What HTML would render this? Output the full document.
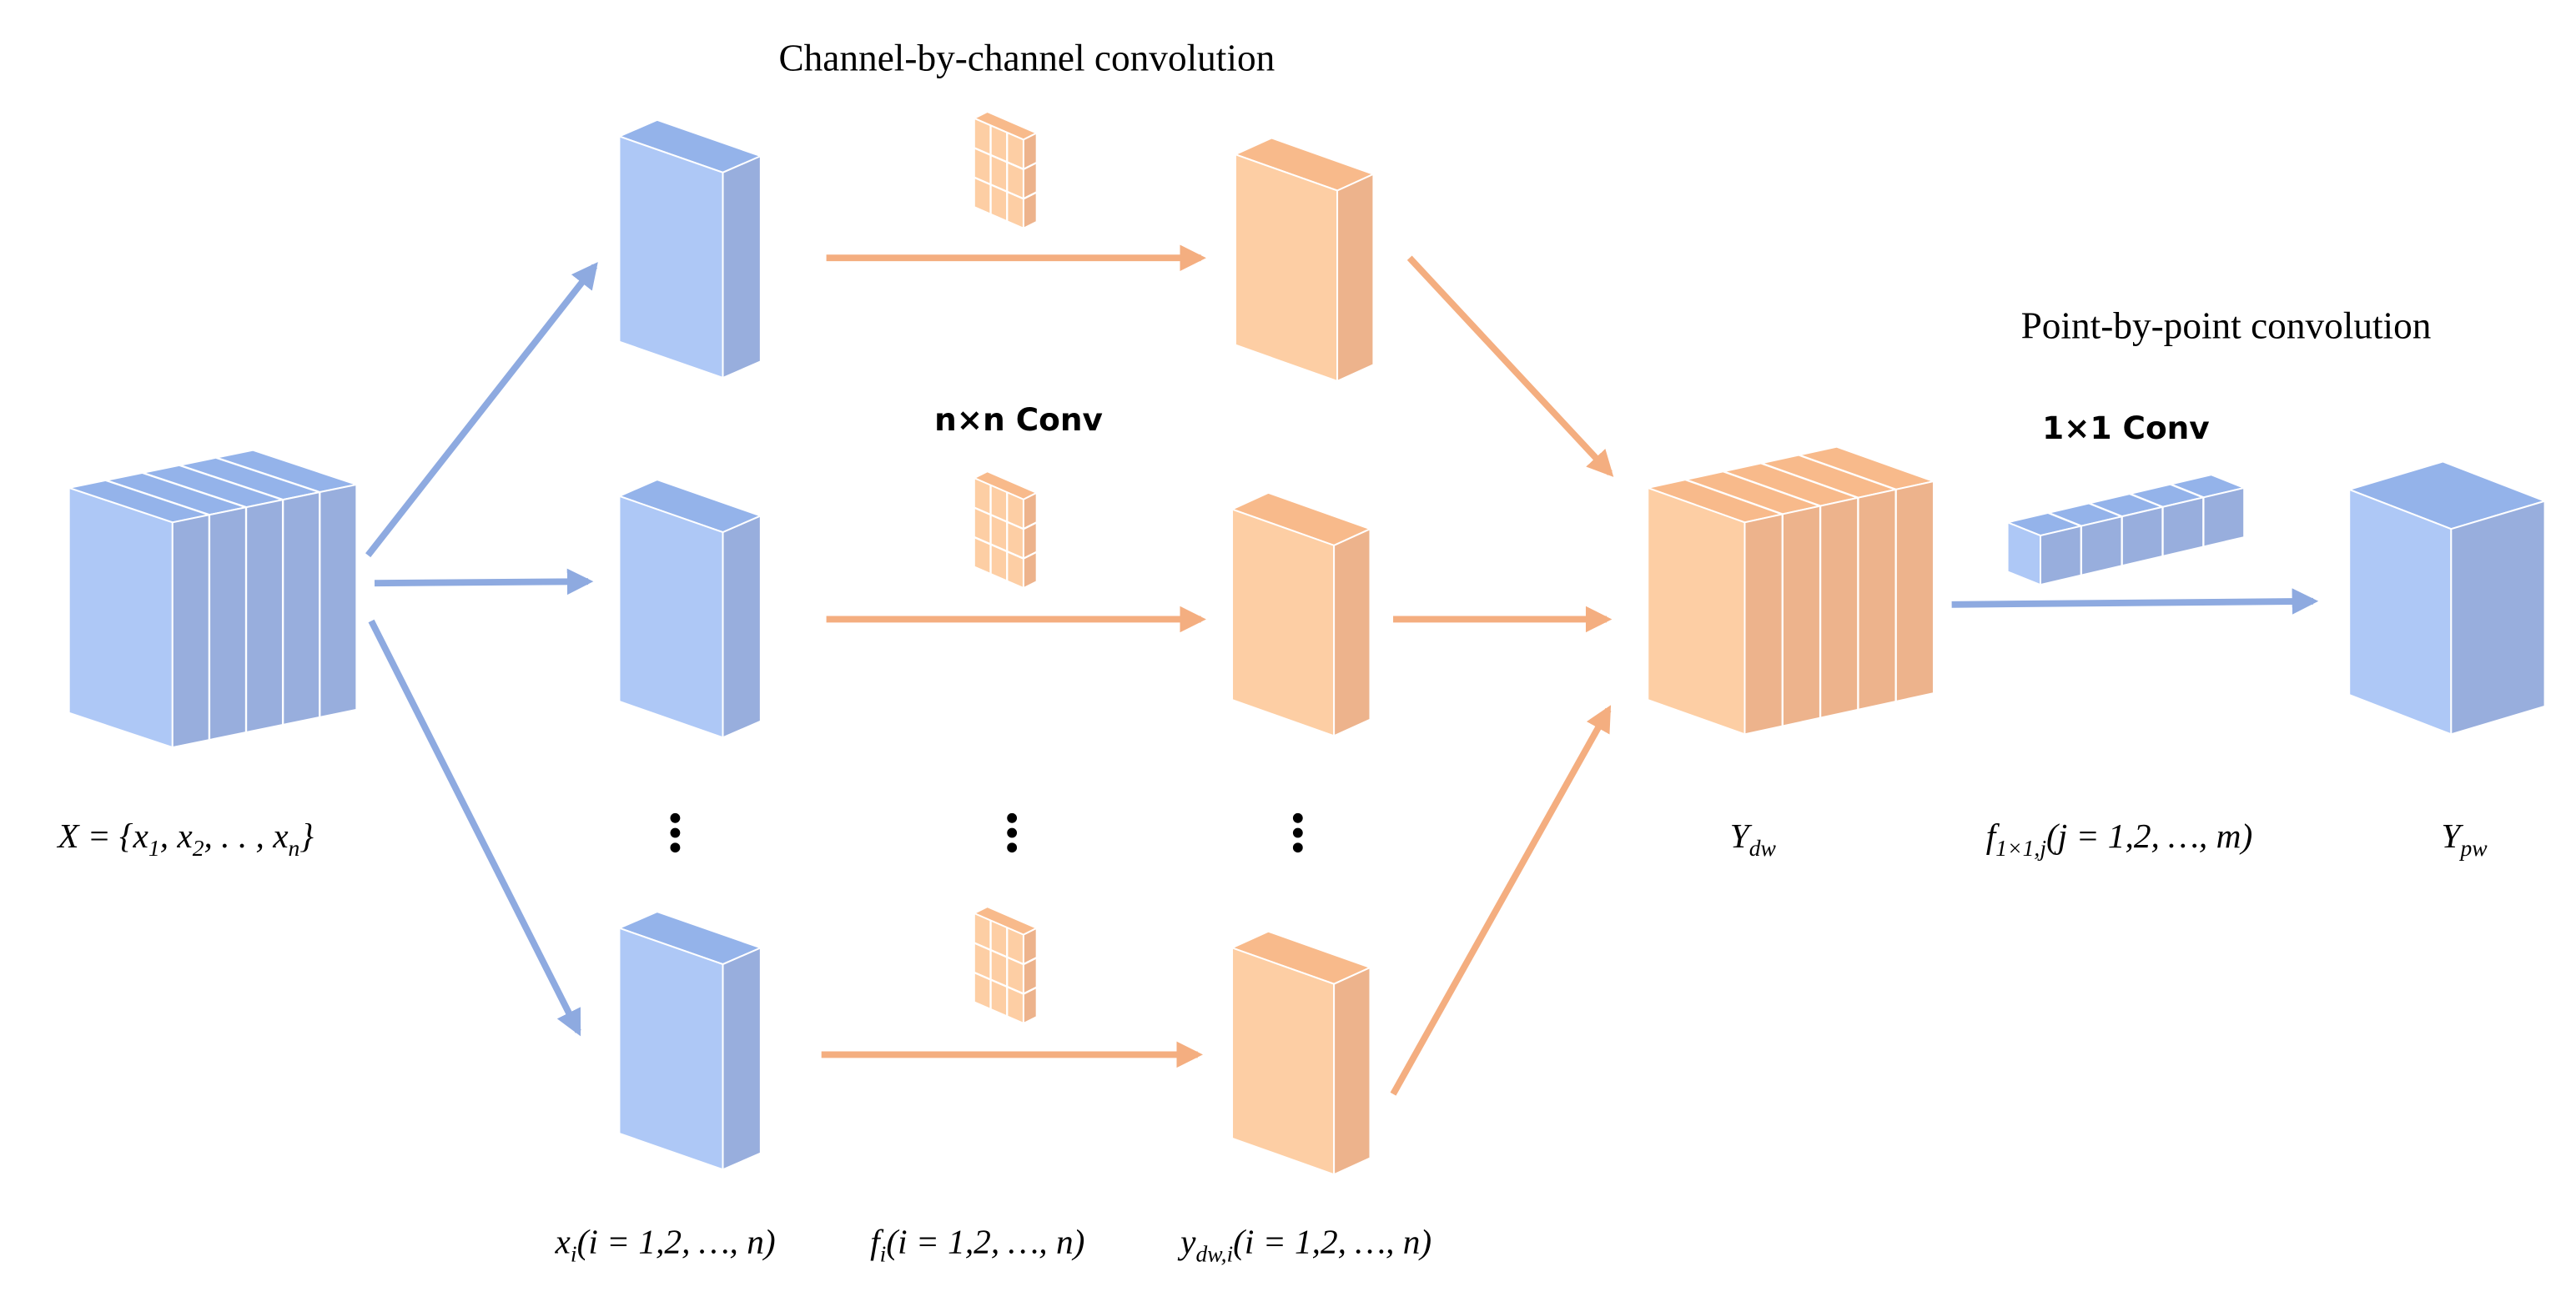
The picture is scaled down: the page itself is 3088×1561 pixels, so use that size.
<!DOCTYPE html>
<html><head><meta charset="utf-8"><style>
html,body{margin:0;padding:0;background:#fff;width:3088px;height:1561px;overflow:hidden}
svg{display:block}
.t{font-family:"Liberation Serif",serif;fill:#000}
.b{font-family:"DejaVu Sans","Liberation Sans",sans-serif;font-weight:bold;fill:#000}
.m{font-family:"Liberation Serif",serif;font-style:italic;fill:#000}
</style></head><body>
<svg id="s" width="3088" height="1561" viewBox="0 0 1568 792.6" xmlns="http://www.w3.org/2000/svg">
<defs>
<marker id="ab" viewBox="0 0 10 10" refX="8" refY="5" markerWidth="4" markerHeight="4" orient="auto" markerUnits="strokeWidth"><path d="M0,0L10,5L0,10z" fill="#8eaae0"/></marker>
<marker id="ao" viewBox="0 0 10 10" refX="8" refY="5" markerWidth="4" markerHeight="4" orient="auto" markerUnits="strokeWidth"><path d="M0,0L10,5L0,10z" fill="#f4ae80"/></marker>
</defs>
<g id="g"></g>
<g stroke-width="4" fill="none">
<line x1="224" y1="338" x2="362" y2="162" stroke="#8eaae0" marker-end="url(#ab)"/>
<line x1="228" y1="355" x2="358" y2="354" stroke="#8eaae0" marker-end="url(#ab)"/>
<line x1="226" y1="378" x2="352" y2="628" stroke="#8eaae0" marker-end="url(#ab)"/>
<line x1="1188" y1="368" x2="1408" y2="366" stroke="#8eaae0" marker-end="url(#ab)"/>
<line x1="503" y1="157" x2="731" y2="157" stroke="#f4ae80" marker-end="url(#ao)"/>
<line x1="503" y1="377" x2="731" y2="377" stroke="#f4ae80" marker-end="url(#ao)"/>
<line x1="500" y1="642" x2="729" y2="642" stroke="#f4ae80" marker-end="url(#ao)"/>
<line x1="858" y1="157" x2="980" y2="288" stroke="#f4ae80" marker-end="url(#ao)"/>
<line x1="848" y1="377" x2="978" y2="377" stroke="#f4ae80" marker-end="url(#ao)"/>
<line x1="848" y1="666" x2="979" y2="432" stroke="#f4ae80" marker-end="url(#ao)"/>
</g>
<text class="t" x="625" y="43" font-size="23" text-anchor="middle">Channel-by-channel convolution</text>
<text class="t" x="1355" y="206" font-size="23" text-anchor="middle">Point-by-point convolution</text>
<text class="b" x="620" y="262" font-size="19" text-anchor="middle">n×n Conv</text>
<text class="b" x="1294" y="267" font-size="19" text-anchor="middle">1×1 Conv</text>
<g fill="#000">
<circle cx="411" cy="498" r="3"/><circle cx="411" cy="507" r="3"/><circle cx="411" cy="516" r="3"/>
<circle cx="616" cy="498" r="3"/><circle cx="616" cy="507" r="3"/><circle cx="616" cy="516" r="3"/>
<circle cx="790" cy="498" r="3"/><circle cx="790" cy="507" r="3"/><circle cx="790" cy="516" r="3"/>
</g>
<g font-size="21">
<text class="m" x="113" y="516" text-anchor="middle">X = {x<tspan font-size="14" dy="5">1</tspan><tspan dy="-5">, x</tspan><tspan font-size="14" dy="5">2</tspan><tspan dy="-5">, . . , x</tspan><tspan font-size="14" dy="5">n</tspan><tspan dy="-5">}</tspan></text>
<text class="m" x="1067" y="516" text-anchor="middle">Y<tspan font-size="14" dy="5">dw</tspan></text>
<text class="m" x="1290" y="516" text-anchor="middle">f<tspan font-size="14" dy="5">1×1,j</tspan><tspan dy="-5">(j = 1,2, …, m)</tspan></text>
<text class="m" x="1500" y="516" text-anchor="middle">Y<tspan font-size="14" dy="5">pw</tspan></text>
<text class="m" x="405" y="763" text-anchor="middle">x<tspan font-size="14" dy="5">i</tspan><tspan dy="-5">(i = 1,2, …, n)</tspan></text>
<text class="m" x="595" y="763" text-anchor="middle">f<tspan font-size="14" dy="5">i</tspan><tspan dy="-5">(i = 1,2, …, n)</tspan></text>
<text class="m" x="795" y="763" text-anchor="middle">y<tspan font-size="14" dy="5">dw,i</tspan><tspan dy="-5">(i = 1,2, …, n)</tspan></text>
</g>
</svg>
<script>
var g=document.getElementById('g'),NS='http://www.w3.org/2000/svg';
var B={f:'#aec8f6',s:'#98aedd',t:'#94b3ea'},O={f:'#fdcea4',s:'#edb38c',t:'#f8ba8b'};
function poly(p,c){var e=document.createElementNS(NS,'polygon');e.setAttribute('points',p.map(function(q){return q.join(',')}).join(' '));e.setAttribute('fill',c);e.setAttribute('stroke','#fff');e.setAttribute('stroke-width','1');e.setAttribute('stroke-linejoin','round');g.appendChild(e);}
function line(a,b){var e=document.createElementNS(NS,'line');e.setAttribute('x1',a[0]);e.setAttribute('y1',a[1]);e.setAttribute('x2',b[0]);e.setAttribute('y2',b[1]);e.setAttribute('stroke','#fff');e.setAttribute('stroke-width','1.2');g.appendChild(e);}
function box(x,y,fw,fd,fh,sw,sd,c,slices,grid){
 poly([[x,y],[x+sw,y-sd],[x+fw+sw,y+fd-sd],[x+fw,y+fd]],c.t);
 poly([[x,y],[x+fw,y+fd],[x+fw,y+fd+fh],[x,y+fh]],c.f);
 poly([[x+fw,y+fd],[x+fw+sw,y+fd-sd],[x+fw+sw,y+fd-sd+fh],[x+fw,y+fd+fh]],c.s);
 if(slices){for(var i=1;i<slices;i++){var k=i/slices,xx=x+fw+sw*k,yy=y+fd-sd*k;line([xx,yy],[xx,yy+fh]);line([x+sw*k,y-sd*k],[xx,yy]);}}
 if(grid){for(var i=1;i<3;i++){var k=i/3;var xx=x+fw*k,yy=y+fd*k;line([xx,yy],[xx,yy+fh]);
   line([x,y+fh*k],[x+fw,y+fd+fh*k]);line([x+fw,y+fd+fh*k],[x+fw+sw,y+fd-sd+fh*k]);}}
}
box(42,297,63,21,137,112,23,B,5);
box(377,83,63,22,125,23,10,B);
box(377,302,63,22,125,23,10,B);
box(377,565,63,22,125,23,10,B);
box(593,72,30,13,54,8,4,O,0,1);
box(593,291,30,13,54,8,4,O,0,1);
box(593,556,30,13,54,8,4,O,0,1);
box(752,94,62,22,116,22,10,O);
box(750,310,62,22,116,22,10,O);
box(750,577,62,22,116,22,10,O);
box(1003,297,59,21,129,115,25,O,5);
box(1222,318,20,8,30,124,29,B,5);
box(1430,298,62,24,125,57,17,B);
</script>
</body></html>
